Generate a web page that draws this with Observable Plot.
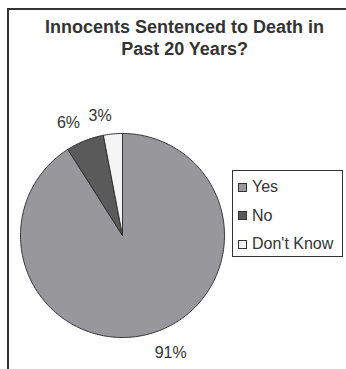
<!DOCTYPE html>
<html>
<head>
<meta charset="utf-8">
<script src="https://cdn.jsdelivr.net/npm/d3@7"></script>
<script src="https://cdn.jsdelivr.net/npm/@observablehq/plot@0.6"></script>
<style>
  body { margin: 0; background: #fff; }
  #wrap { position: relative; width: 346px; height: 369px; overflow: hidden; font-family: "Liberation Sans", Arial, sans-serif; }
  #wrap svg { display: block; }
  #legend { position: absolute; left: 232px; top: 170px; width: 111px; height: 87px; box-sizing: border-box;
            border: 1px solid #333; background: #fff; padding-top: 2px; }
  .item { height: 28.5px; display: flex; align-items: center; font-size: 16px; color: #333; }
  .sw { width: 9px; height: 9px; box-sizing: border-box; border: 1px solid #333; margin-left: 5px; margin-right: 5px; }
</style>
</head>
<body>
<div id="wrap"></div>
<script>
// ---- data ----
const categories = ["Yes", "No", "Don't Know"];
const values = [91, 6, 3];
const colors = ["#98989c", "#5a5a5a", "#f5f5f5"];
const titleLines = ["Innocents Sentenced to Death in", "Past 20 Years?"];

// ---- layout ----
const W = 346, H = 369;
const R = 102;            // pie radius in px
const cx = 122, cy = 235; // pie centre in px
const labelR = 1.13;      // label anchor radius (in pie radii)

// build slice polygons from the values (angles clockwise from 12 o'clock)
const total = d3.sum(values);
const slices = [];
const labels = [];
let cum = 0;
categories.forEach((c, i) => {
  const a0 = 2 * Math.PI * cum / total;
  cum += values[i];
  const a1 = 2 * Math.PI * cum / total;
  const n = Math.max(2, Math.ceil((a1 - a0) / (Math.PI / 180)));
  slices.push({cat: c, x: 0, y: 0});
  for (let k = 0; k <= n; k++) {
    const a = a0 + (a1 - a0) * k / n;
    slices.push({cat: c, x: Math.sin(a), y: Math.cos(a)});
  }
  slices.push({cat: c, x: 0, y: 0});
  const m = (a0 + a1) / 2;
  labels.push({
    text: values[i] + "%",
    x: labelR * Math.sin(m),
    y: labelR * Math.cos(m),
    ta: Math.sin(m) >= 0 ? "start" : "end",
    la: Math.cos(m) < 0 ? "top" : "bottom"
  });
});

const labelMarks = [];
for (const ta of ["start", "end"]) for (const la of ["top", "bottom"]) {
  const sub = labels.filter(d => d.ta === ta && d.la === la);
  if (sub.length) labelMarks.push(Plot.text(sub, {
    x: "x", y: "y", text: "text", textAnchor: ta, lineAnchor: la,
    fontSize: 16, fill: "#333"
  }));
}

const plot = Plot.plot({
  width: W, height: H,
  margin: 0,
  style: {fontFamily: '"Liberation Sans", Arial, sans-serif', background: "#fff"},
  x: {domain: [-cx / R, (W - cx) / R], axis: null},
  y: {domain: [-(H - cy) / R, cy / R], axis: null},
  color: {domain: categories, range: colors},
  marks: [
    Plot.frame({stroke: "#333", strokeWidth: 2, insetLeft: 7.5, insetTop: 8.5, insetRight: -20, insetBottom: -20}),
    Plot.line(slices, {x: "x", y: "y", z: "cat", fill: "cat", stroke: "#333", strokeWidth: 1, curve: "linear"}),
    ...labelMarks,
    Plot.text([titleLines.join("\n")], {
      frameAnchor: "top", dx: 11, dy: 17, lineAnchor: "top", lineHeight: 22 / 18,
      fontSize: 18, fontWeight: "bold", fill: "#333"
    })
  ]
});

const wrap = document.getElementById("wrap");
wrap.appendChild(plot);

// legend built from the same arrays
const legend = d3.select(wrap).append("div").attr("id", "legend");
const items = legend.selectAll(".item").data(categories).join("div").attr("class", "item");
items.append("div").attr("class", "sw").style("background", (d, i) => colors[i]);
items.append("span").text(d => d);
</script>
</body>
</html>
